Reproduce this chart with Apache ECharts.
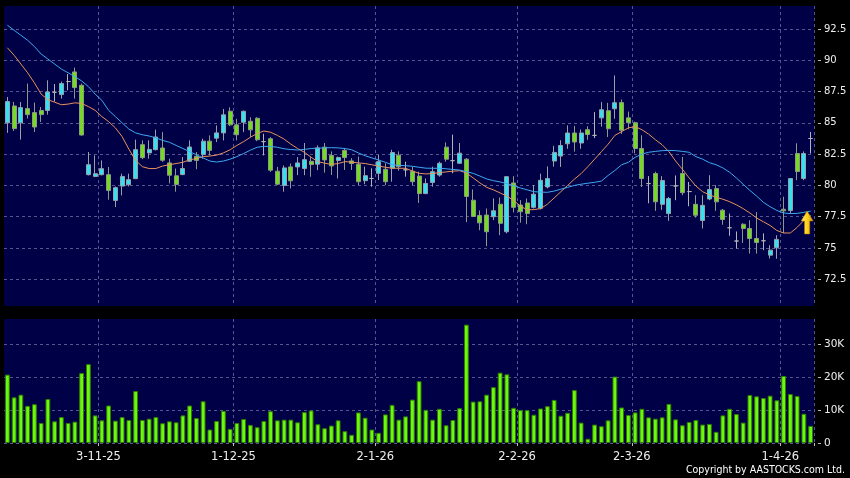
<!DOCTYPE html>
<html><head><meta charset="utf-8">
<script src="https://cdn.jsdelivr.net/npm/echarts@6/dist/echarts.min.js"></script>
<style>html,body{margin:0;padding:0;background:#000}#c{width:850px;height:478px}</style>
</head><body><div id="c"></div>
<script>
const dates = [
'13-10-25','14-10-25','15-10-25','16-10-25','17-10-25','20-10-25','21-10-25','22-10-25','23-10-25','24-10-25','27-10-25','28-10-25','30-10-25','31-10-25',
'3-11-25','4-11-25','5-11-25','6-11-25','7-11-25','10-11-25','11-11-25','12-11-25','13-11-25','14-11-25','17-11-25','18-11-25','19-11-25','20-11-25','21-11-25','24-11-25','25-11-25','26-11-25','27-11-25','28-11-25',
'1-12-25','2-12-25','3-12-25','4-12-25','5-12-25','8-12-25','9-12-25','10-12-25','11-12-25','12-12-25','15-12-25','16-12-25','17-12-25','18-12-25','19-12-25','22-12-25','23-12-25','24-12-25','29-12-25','30-12-25','31-12-25',
'2-1-26','5-1-26','6-1-26','7-1-26','8-1-26','9-1-26','12-1-26','13-1-26','14-1-26','15-1-26','16-1-26','19-1-26','20-1-26','21-1-26','22-1-26','23-1-26','26-1-26','27-1-26','28-1-26','29-1-26','30-1-26',
'2-2-26','3-2-26','4-2-26','5-2-26','6-2-26','9-2-26','10-2-26','11-2-26','12-2-26','13-2-26','16-2-26','20-2-26','23-2-26','24-2-26','25-2-26','26-2-26','27-2-26',
'2-3-26','3-3-26','4-3-26','5-3-26','6-3-26','9-3-26','10-3-26','11-3-26','12-3-26','13-3-26','16-3-26','17-3-26','18-3-26','19-3-26','20-3-26','23-3-26','24-3-26','25-3-26','26-3-26','27-3-26','30-3-26','31-3-26',
'1-4-26','2-4-26','8-4-26','9-4-26','10-4-26'];
const monthLabels = ['3-11-25','1-12-25','2-1-26','2-2-26','2-3-26','1-4-26'];

const openValues = [85.0,86.35,85.0,86.14,85.82,85.99,85.99,87.45,87.26,88.3,
89.07,88.0,80.86,80.72,80.86,80.86,78.8,79.95,80.06,80.54,
83.26,82.6,82.86,82.99,81.8,80.77,80.87,81.93,82.33,82.46,
83.54,83.78,84.2,85.93,84.84,85.05,85.13,85.37,83.5,83.73,
81.14,80.0,81.48,81.48,81.35,81.93,81.7,83.06,82.39,81.99,
82.8,81.96,81.69,80.38,80.56,80.97,81.29,81.37,82.42,81.25,
81.13,80.75,79.35,80.24,80.83,83.06,81.98,81.77,82.1,78.82,
77.6,77.63,77.5,78.5,76.3,80.2,78.43,78.6,78.25,78.17,
79.88,81.95,82.35,83.33,84.19,83.39,84.45,84.0,85.4,85.97,
86.13,86.62,85.4,85.01,82.95,80.15,80.95,78.49,77.75,79.96,
80.95,79.51,78.49,77.2,78.92,79.75,78.02,76.62,75.56,76.9,
76.56,75.76,75.58,74.43,75.02,78.1,77.99,82.55,80.55,83.75];
const closeValues = [86.7,84.54,86.22,85.66,84.67,85.66,87.47,87.45,88.14,88.3,
87.82,84.03,81.66,80.94,81.34,79.6,79.82,80.72,80.46,82.86,
82.22,82.88,83.87,82.01,80.82,80.08,81.35,83.07,82.0,83.54,
82.8,84.2,85.64,84.84,84.05,85.93,84.44,83.65,83.5,81.22,
80.1,81.4,80.37,81.8,82.06,81.67,83.0,82.04,81.56,82.23,
82.23,81.75,80.3,80.78,80.56,81.9,80.3,82.63,81.5,81.25,
80.3,79.35,80.16,81.1,81.77,82.1,81.98,82.58,79.12,77.52,
77.01,76.3,77.98,76.97,80.7,78.25,77.9,77.75,79.3,80.41,
80.55,82.64,83.19,84.19,83.47,84.19,84.07,84.0,86.05,84.53,
86.61,84.41,85.01,82.95,80.55,80.15,78.69,80.39,78.95,79.96,
79.42,79.51,77.62,78.41,79.67,78.69,77.28,76.62,75.56,76.56,
75.76,75.44,75.58,74.83,75.69,77.97,80.55,81.11,82.55,83.75];
const lowValues = [84.2,84.35,83.66,85.34,84.27,85.07,85.66,86.7,86.94,87.6,
86.94,83.98,80.8,80.67,80.8,78.86,78.27,79.2,79.92,80.51,
82.1,82.14,82.8,81.88,80.16,79.5,80.82,81.88,81.3,82.14,
82.4,83.47,83.6,84.74,83.6,84.26,83.86,83.54,82.4,81.08,
80.03,79.5,79.76,80.82,80.82,80.69,81.22,81.02,80.83,80.56,
81.24,81.24,80.03,80.1,79.9,80.43,80.03,80.3,81.18,80.7,
80.03,78.6,79.3,79.9,80.7,81.9,80.97,81.72,77.07,77.47,
76.42,75.15,77.23,76.03,76.17,77.84,77.02,76.9,78.16,78.08,
79.76,81.5,81.48,82.93,82.7,82.93,83.65,83.78,84.7,83.87,
85.33,84.11,84.5,82.57,79.88,78.58,77.97,78.05,77.17,78.82,
79.22,78.34,77.43,76.56,78.82,77.97,76.86,75.98,74.96,75.41,
74.56,74.56,74.83,74.16,74.14,76.2,77.75,80.42,80.42,82.55];
const highValues = [87.07,86.67,86.67,88.14,86.62,86.27,88.4,88.1,88.3,88.9,
89.42,88.14,82.67,82.4,82.0,81.47,79.92,80.94,80.94,83.66,
83.6,83.6,84.46,84.26,82.14,81.35,82.27,83.6,82.67,83.73,
84.0,84.79,86.11,86.24,85.32,85.98,85.45,85.45,84.13,83.86,
81.48,81.6,81.75,82.27,83.39,82.27,83.2,83.39,82.72,82.31,
82.98,82.18,82.31,81.5,81.37,82.45,81.77,82.85,82.72,81.9,
81.5,81.1,80.56,81.5,81.9,83.44,84.06,83.39,82.18,79.68,
78.0,78.16,78.96,79.04,80.74,80.74,78.83,78.96,80.03,80.94,
81.52,83.16,83.61,84.8,84.76,84.47,84.73,85.86,86.66,86.6,
88.79,86.87,85.9,85.1,84.0,80.75,81.1,80.74,79.08,80.8,
82.28,80.28,79.22,79.22,80.82,80.02,78.12,77.75,76.32,76.98,
77.22,77.87,76.17,75.22,76.02,79.1,80.55,83.37,82.72,84.28];

const maFast = [91.0,90.4,89.7,89.0,88.2,87.3,86.85,86.65,86.45,86.5,
86.6,86.55,86.3,86.0,85.5,85.1,84.6,83.9,82.9,82.0,
81.5,81.35,81.35,81.55,81.65,81.75,81.85,82.05,82.15,82.3,
82.35,82.42,82.6,82.85,83.2,83.5,83.85,84.15,84.35,84.25,
84.0,83.7,83.3,82.95,82.65,82.25,81.9,81.78,81.68,81.75,
81.9,81.87,81.8,81.75,81.65,81.55,81.45,81.38,81.37,81.37,
81.15,80.97,80.92,80.95,81.03,81.08,81.14,81.18,81.0,80.6,
80.2,79.85,79.65,79.4,79.15,78.8,78.35,78.05,78.07,78.15,
78.5,79.0,79.5,80.0,80.5,80.95,81.5,82.1,82.7,83.3,
84.0,84.3,84.6,84.7,84.45,84.1,83.65,83.25,82.7,81.95,
81.3,80.6,79.95,79.5,79.25,79.05,78.9,78.7,78.45,78.15,
77.8,77.4,77.1,76.8,76.4,76.2,76.2,76.65,77.2,77.6];
const maSlow = [92.8,92.4,92.0,91.6,91.1,90.5,90.1,89.7,89.3,89.0,
88.7,88.35,87.9,87.3,86.8,86.0,85.5,85.0,84.5,84.2,
84.05,83.95,83.8,83.6,83.45,83.2,82.95,82.7,82.45,82.2,
81.95,81.87,81.95,82.1,82.3,82.55,82.82,83.05,83.12,83.12,
83.05,82.93,82.87,82.83,82.88,82.95,82.98,83.0,83.02,83.0,
82.95,82.85,82.6,82.37,82.2,82.03,81.85,81.65,81.6,81.58,
81.53,81.45,81.38,81.37,81.37,81.33,81.28,81.23,81.1,80.97,
80.75,80.52,80.38,80.28,80.15,79.98,79.8,79.65,79.5,79.47,
79.45,79.55,79.7,79.85,80.0,80.1,80.18,80.25,80.35,80.8,
81.2,81.65,81.85,82.25,82.5,82.65,82.72,82.78,82.8,82.78,
82.72,82.65,82.3,82.1,81.82,81.65,81.4,81.05,80.6,80.1,
79.6,79.15,78.65,78.3,78.0,77.8,77.75,77.77,77.85,77.95];

const volumeK = [20.8,13.9,14.7,11.3,11.8,6.1,13.4,6.6,7.9,6.1,
6.5,21.3,24.0,8.4,6.9,11.4,6.8,7.9,7.0,15.8,
7.0,7.4,7.9,6.0,6.6,6.3,8.4,11.4,7.6,12.7,
4.1,6.7,9.8,4.3,6.1,7.3,5.5,4.8,6.7,9.7,
6.9,7.1,7.1,6.3,9.4,9.9,5.7,4.5,5.3,6.9,
3.6,2.5,9.3,7.7,4.1,3.1,8.7,11.6,7.1,8.1,
13.2,18.8,10.1,7.1,10.4,5.4,7.0,10.6,36.0,12.6,
12.7,14.7,17.0,21.4,20.9,10.7,10.0,10.0,8.6,10.5,
11.2,13.1,8.3,9.2,16.1,6.2,1.3,5.6,5.1,6.9,
20.2,10.8,8.5,9.3,10.4,7.8,7.4,7.8,11.9,7.2,
5.4,6.4,7.0,5.6,5.8,3.4,8.4,10.4,8.8,6.2,
14.6,14.2,13.7,14.4,13.0,20.4,14.9,14.3,8.9,5.2];

const priceTicks = [72.5,75,77.5,80,82.5,85,87.5,90,92.5];
const volumeTicks = [0,10,20,30];

const candleData = dates.map((d, i) => [openValues[i], closeValues[i], lowValues[i], highValues[i]]);

const chart = echarts.init(document.getElementById('c'));
const navy = '#000046';
const dashed = {color: '#55558f', type: [3, 3], width: 1};
const isMonthStart = (i, v) => monthLabels.includes(v);
const labelFont = 'DejaVu Sans';

chart.setOption({
  backgroundColor: '#000',
  animation: false,
  grid: [
    {left: 4, right: 36, top: 6, height: 300, show: true, backgroundColor: navy, borderWidth: 0, outerBoundsMode: 'none'},
    {left: 4, right: 36, top: 319, height: 124, show: true, backgroundColor: navy, borderWidth: 0, outerBoundsMode: 'none'}
  ],
  xAxis: [
    {type: 'category', gridIndex: 0, data: dates, boundaryGap: true,
     axisLine: {show: false}, axisTick: {show: false}, axisLabel: {show: false},
     splitLine: {show: true, interval: isMonthStart, lineStyle: dashed}},
    {type: 'category', gridIndex: 1, data: dates, boundaryGap: true, offset: 3,
     axisLine: {show: false},
     axisTick: {show: true, interval: isMonthStart, length: 3, lineStyle: {color: '#bbbbbb'}},
     axisLabel: {show: true, interval: isMonthStart, color: '#eeeeee', fontFamily: labelFont, fontSize: 11.5, margin: 5, padding: [0, 6.75, 0, 0]},
     splitLine: {show: true, interval: isMonthStart, lineStyle: dashed}}
  ],
  yAxis: [
    {type: 'value', gridIndex: 0, position: 'right', min: 70.367, max: 94.338, offset: 4,
     axisLine: {show: false},
     axisTick: {show: true, length: 3, customValues: priceTicks, lineStyle: {color: '#bbbbbb'}},
     axisLabel: {customValues: priceTicks, color: '#eeeeee', fontFamily: labelFont, fontSize: 10, margin: 6, formatter: v => String(v)},
     splitLine: {show: true, lineStyle: dashed}},
    {type: 'value', gridIndex: 1, position: 'right', min: 0, max: 37.72, offset: 4,
     axisLine: {show: false},
     axisTick: {show: true, length: 3, customValues: volumeTicks, lineStyle: {color: '#bbbbbb'}},
     axisLabel: {customValues: volumeTicks, color: '#eeeeee', fontFamily: labelFont, fontSize: 10.5, margin: 6, formatter: v => v === 0 ? '0' : v + 'K'},
     splitLine: {show: true, lineStyle: dashed}}
  ],
  series: [
    {type: 'candlestick', xAxisIndex: 0, yAxisIndex: 0, data: candleData, barWidth: 4.6,
     itemStyle: {color: '#33e2f2', color0: '#74dc1e', borderColor: '#98a0a8', borderColor0: '#8e9a86', borderColorDoji: '#b4b4b4', borderWidth: 1}},
    {type: 'line', xAxisIndex: 0, yAxisIndex: 0, data: maFast, symbol: 'none', z: 3,
     lineStyle: {color: '#e8925e', width: 1}},
    {type: 'line', xAxisIndex: 0, yAxisIndex: 0, data: maSlow, symbol: 'none', z: 3,
     lineStyle: {color: '#3fa9f0', width: 1},
     markPoint: {
       symbol: 'path://M6,0 L12,10 L8.6,10 L8.6,23 L3.4,23 L3.4,10 L0,10 Z',
       symbolSize: [12, 23], symbolKeepAspect: false, symbolOffset: [-3.5, 11.5],
       label: {show: false},
       itemStyle: {color: new echarts.graphic.LinearGradient(0, 0, 1, 0, [{offset: 0, color: '#fff08a'}, {offset: 0.5, color: '#ffd21a'}, {offset: 1, color: '#d99a00'}]), borderColor: '#b07800', borderWidth: 0.5},
       data: [{coord: [dates[119], 77.96]}]
     }},
    {type: 'bar', xAxisIndex: 1, yAxisIndex: 1, data: volumeK, barWidth: 4.8,
     itemStyle: {color: '#6cf70e', borderColor: '#2f7d00', borderWidth: 1}}
  ],
  graphic: [
    {type: 'text', right: 5, top: 465, style: {text: 'Copyright by AASTOCKS.com Ltd.', fill: '#ffffff', font: '10.5px "DejaVu Sans Condensed"'}}
  ]
});
</script>
</body></html>
